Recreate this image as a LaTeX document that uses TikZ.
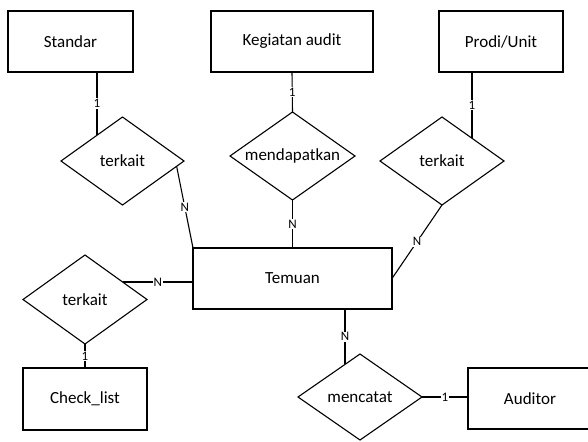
\documentclass[tikz,border=0pt]{standalone}
\usepackage{fontspec}
\setmainfont{Carlito}
\usetikzlibrary{shapes.geometric,calc}
\begin{document}
\begin{tikzpicture}[x=1pt,y=-1pt,
  line width=1.1pt,
  entity/.style={draw, rectangle, inner sep=0pt, outer sep=0pt,
    minimum height=61pt, font=\fontsize{17}{19}\selectfont},
  rel/.style={draw, diamond, inner sep=0pt, outer sep=0pt,
    label={[font=\fontsize{17}{19}\selectfont]center:#1}},
  card/.style={fill=white, inner sep=1pt, font=\fontsize{13}{14}\selectfont},
  link/.style={line width=1.1pt}]
\useasboundingbox (0,0) rectangle (588,441);

% entities
\node[entity, minimum width=125pt] (std) at (70.5,41.5) {Standar};
\node[entity, minimum width=162pt] (keg) at (292,41.5) {Kegiatan audit};
\node[entity, minimum width=124pt] (prodi) at (501,41.5) {Prodi/Unit};
\node[entity, minimum width=199pt] (tem) at (292.5,278.5) {Temuan};
\node[entity, minimum width=124pt, minimum height=62pt] (chk) at (85,399) {Check\_list};
\node[entity, minimum width=124pt] (aud) at (530,398.5) {Auditor};

% relationships
\node[rel=terkait, minimum width=123pt, minimum height=88pt] (r1) at (122.5,161) {};
\node[rel=mendapatkan, minimum width=125pt, minimum height=88pt] (r2) at (292.5,156) {};
\node[rel=terkait, minimum width=124pt, minimum height=88pt] (r3) at (442,161) {};
\node[rel=terkait, minimum width=124pt, minimum height=89pt] (r4) at (85,299.5) {};
\node[rel=mencatat, minimum width=124pt, minimum height=86pt] (r5) at (360,397) {};

% attachment points on the diamond borders
\coordinate (r1a) at ($(r1.north)!0.415!(r1.west)$);
\coordinate (r1b) at ($(r1.east)!0.12!(r1.south)$);
\coordinate (r3a) at ($(r3.north)!0.484!(r3.east)$);
\coordinate (r4a) at ($(r4.north)!0.607!(r4.east)$);
\coordinate (r5a) at ($(r5.north)!0.242!(r5.west)$);

% connectors
\draw[link] (r1a |- std.south) -- (r1a) node[card, midway] {1};
\draw[link] (tem.north west) -- (r1b) node[card, midway] {N};
\draw[link] (keg.south) -- (r2.north) node[card, midway] {1};
\draw[link] (r2.south) -- (tem.north) node[card, midway] {N};
\draw[link] (r3a |- prodi.south) -- (r3a) node[card, midway] {1};
\draw[link] (r3.south) -- (tem.east) node[card, midway] {N};
\draw[link] (r4a) -- (r4a -| tem.west) node[card, midway] {N};
\draw[link] (r4.south) -- (chk.north) node[card, midway] {1};
\draw[link] (r5a |- tem.south) -- (r5a) node[card, midway] {N};
\draw[link] (r5.east) -- (r5.east -| aud.west) node[card, midway] {1};
\end{tikzpicture}
\end{document}
